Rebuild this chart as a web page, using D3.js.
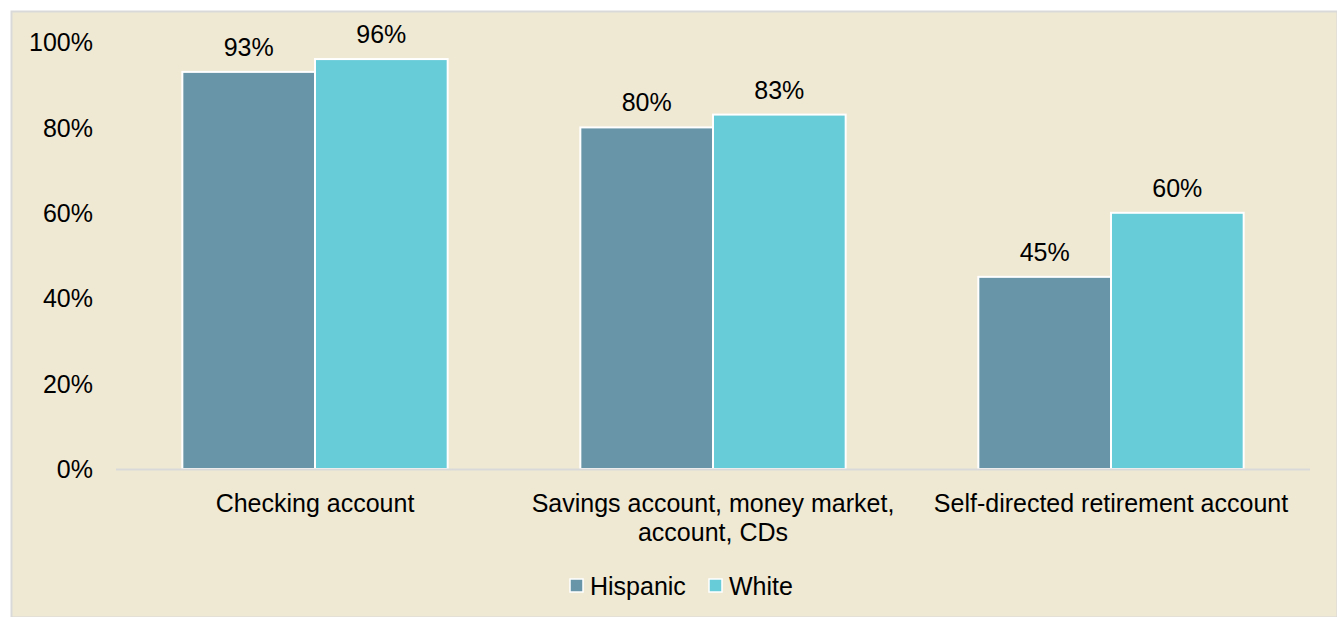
<!DOCTYPE html>
<html><head><meta charset="utf-8">
<script src="https://cdn.jsdelivr.net/npm/d3@7"></script>
<style>body{margin:0;background:#fff}svg{display:block;font-family:"Liberation Sans",Arial,sans-serif}</style>
</head><body>
<script>
const categories = [["Checking account"], ["Savings account, money market,", "account, CDs"], ["Self-directed retirement account"]];
const seriesNames = ["Hispanic", "White"];
const hispanic = [93, 80, 45];
const white = [96, 83, 60];
const yTicks = [0, 20, 40, 60, 80, 100];
const colors = ["#6995A9", "#67CBD8"];

const W = 1337, H = 617, FS = 25;
const svg = d3.select("body").append("svg").attr("width", W).attr("height", H);
svg.append("rect").attr("x", 11.5).attr("y", 11.5).attr("width", W - 11).attr("height", H - 11)
  .attr("fill", "#EFE8D3").attr("stroke", "#D9D9D9").attr("stroke-width", 2);

const x0 = d3.scaleBand().domain(d3.range(3)).range([116, 1310]).paddingInner(0).paddingOuter(0);
const x1 = d3.scaleBand().domain(seriesNames).range([0, x0.bandwidth()]).paddingOuter(0.5).paddingInner(0);
const y = d3.scaleLinear().domain([0, 100]).range([469, 42]);

// y axis labels
const yAxis = svg.append("g").attr("transform", "translate(93,0)")
  .call(d3.axisLeft(y).tickValues(yTicks).tickSize(0).tickPadding(0).tickFormat(d => d + "%"));
yAxis.select(".domain").remove();
yAxis.selectAll("text").attr("font-size", FS).attr("fill", "#000").attr("dy", "0.35em")
  .attr("font-family", "Liberation Sans, Arial, sans-serif");

const data = [hispanic, white];
seriesNames.forEach((s, si) => {
  const g = svg.append("g");
  g.selectAll("rect").data(data[si]).join("rect")
    .attr("x", (d, i) => x0(i) + x1(s))
    .attr("y", d => y(d))
    .attr("width", x1.bandwidth())
    .attr("height", d => y(0) - y(d))
    .attr("fill", colors[si]).attr("stroke", "#fff").attr("stroke-width", 2);
  g.selectAll("text").data(data[si]).join("text")
    .attr("x", (d, i) => x0(i) + x1(s) + x1.bandwidth() / 2)
    .attr("y", d => y(d) - 16)
    .attr("text-anchor", "middle").attr("font-size", FS).attr("fill", "#000")
    .text(d => d + "%");
});

// baseline
svg.append("line").attr("x1", 116).attr("x2", 1310).attr("y1", y(0) + 0.5).attr("y2", y(0) + 0.5)
  .attr("stroke", "#D9D9D9").attr("stroke-width", 2);

// category labels
categories.forEach((lines, i) => {
  const t = svg.append("text").attr("text-anchor", "middle").attr("font-size", FS).attr("fill", "#000");
  lines.forEach((l, li) => {
    t.append("tspan").attr("x", x0(i) + x0.bandwidth() / 2).attr("y", 512 + li * 29).text(l);
  });
});

// legend
const legendX = [570, 709];
seriesNames.forEach((s, i) => {
  svg.append("rect").attr("x", legendX[i]).attr("y", 579).attr("width", 13).attr("height", 13)
    .attr("fill", colors[i]).attr("stroke", "#fff").attr("stroke-width", 1.5);
  svg.append("text").attr("x", legendX[i] + 20).attr("y", 595).attr("font-size", FS).attr("fill", "#000").text(s);
});
</script>
</body></html>
